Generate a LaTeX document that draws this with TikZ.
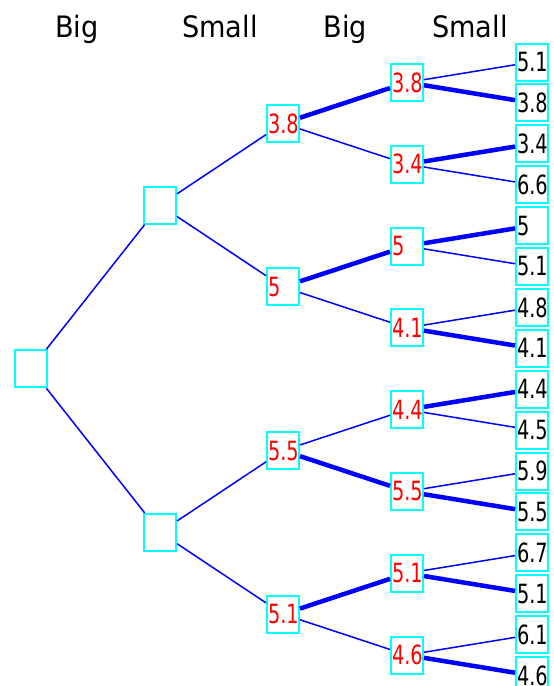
\documentclass[tikz,border=0pt]{standalone}
\usepackage{fontspec}
\newfontfamily\nodefont[FakeStretch=0.73]{DejaVu Sans}
\newfontfamily\headfont[FakeStretch=0.92]{DejaVu Sans}
\definecolor{boxcyan}{RGB}{0,255,255}
\definecolor{edgeblue}{RGB}{0,0,255}
\definecolor{txtred}{RGB}{255,0,0}
\tikzset{
  box/.style={draw=boxcyan, line width=2pt, minimum width=32pt, minimum height=37pt,
    inner xsep=1pt, inner ysep=0pt, text width=30pt, align=left,
    font=\nodefont\fontsize{26.5}{26.5}\selectfont},
  inner/.style={box, text=txtred},
  leaf/.style={box, text=black},
  head/.style={anchor=base, font=\headfont\fontsize{29.5}{30}\selectfont},
  ln/.style={draw=edgeblue, line width=1.5pt},
  hv/.style={draw=edgeblue, line width=4.5pt},
}
\begin{document}
\begin{tikzpicture}[x=1pt,y=-1pt]
\useasboundingbox (0,0) rectangle (554,686);
% headers
\node[head] (h1) at (77,37) {Big};
\node[head] (h2) at (220,37) {Small};
\node[head] (h3) at (345.5,37) {Big};
\node[head] (h4) at (470,37) {Small};
% nodes
\node[box] (r) at (31,368.75) {};
\node[box] (a1) at (160,205.15) {};
\node[box] (a2) at (160,532.35) {};
\foreach \v [count=\i] in {3.8,5,5.5,5.1}
  \node[inner] (b\i) at (283,{123.35+163.6*(\i-1)}) {\v};
\foreach \v [count=\i] in {3.8,3.4,5,4.1,4.4,5.5,5.1,4.6}
  \node[inner] (c\i) at (407,{82.45+81.8*(\i-1)}) {\v};
\foreach \v [count=\i] in {5.1,3.8,3.4,6.6,5,5.1,4.8,4.1,4.4,4.5,5.9,5.5,6.7,5.1,6.1,4.6}
  \node[leaf] (d\i) at (532,{62+40.9*(\i-1)}) {\v};
% edges
\foreach \p/\c/\s in {r/a1/ln, r/a2/ln, a1/b1/ln, a1/b2/ln, a2/b3/ln, a2/b4/ln,
  b1/c1/hv, b1/c2/ln, b2/c3/hv, b2/c4/ln, b3/c5/ln, b3/c6/hv, b4/c7/hv, b4/c8/ln,
  c1/d1/ln, c1/d2/hv, c2/d3/hv, c2/d4/ln, c3/d5/hv, c3/d6/ln, c4/d7/ln, c4/d8/hv,
  c5/d9/hv, c5/d10/ln, c6/d11/ln, c6/d12/hv, c7/d13/ln, c7/d14/hv, c8/d15/ln, c8/d16/hv}
  \draw[\s] (\p) -- (\c);
\end{tikzpicture}
\end{document}
